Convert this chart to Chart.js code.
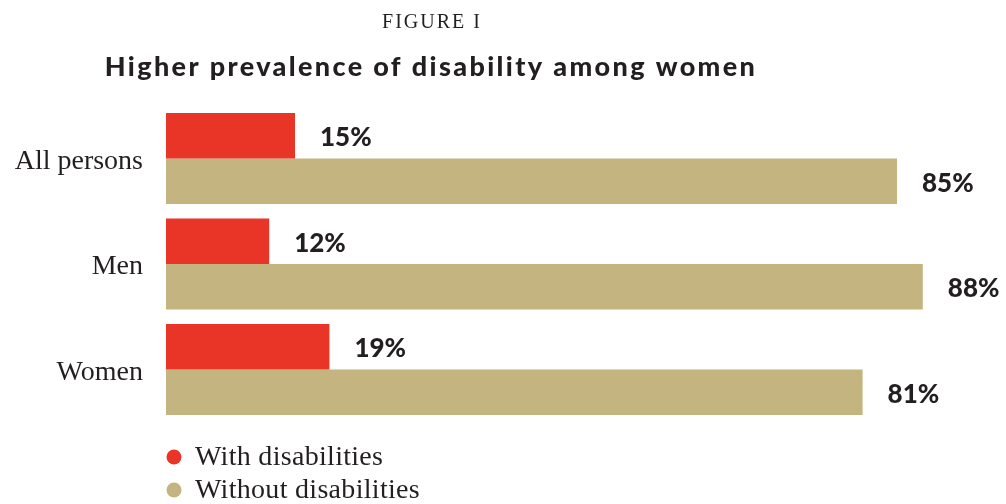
<!DOCTYPE html>
<html>
<head>
<meta charset="utf-8">
<script src="https://cdn.jsdelivr.net/npm/chart.js@4"></script>
<style>
  html, body { margin: 0; padding: 0; background: #ffffff; }
  #wrap { width: 1006px; height: 504px; position: relative; }
</style>
</head>
<body>
<div id="wrap"><canvas id="disabilityChart"></canvas></div>
<script>
(function () {
  "use strict";

  // Data
  const categories = ['All persons', 'Men', 'Women'];
  const withDisabilities = [15, 12, 19];
  const withoutDisabilities = [85, 88, 81];
  const seriesNames = ['With disabilities', 'Without disabilities'];

  // Colors
  const red_500   = '#e83528';
  const tan_500   = '#c4b47f';
  const text_dark = '#231f20';

  const serif = '"Liberation Serif", "DejaVu Serif", serif';
  const sans  = 'Lato, "Open Sans", sans-serif';

  // titles, value labels and legend drawn on the canvas
  const decorations = {
    id: 'decorations',
    afterDatasetsDraw(chart) {
      const ctx = chart.ctx;
      const canSpace = 'letterSpacing' in ctx;
      ctx.save();
      ctx.fillStyle = text_dark;

      // small caps heading
      ctx.font = '20px ' + serif;
      ctx.textAlign = 'center';
      ctx.textBaseline = 'alphabetic';
      if (canSpace) ctx.letterSpacing = '2px';
      ctx.fillText('FIGURE I', 432, 28);
      if (canSpace) ctx.letterSpacing = '0px';

      // title, spaced out to the reference width
      const title = 'Higher prevalence of disability among women';
      ctx.font = '900 27px ' + sans;
      const w = ctx.measureText(title).width;
      if (canSpace) {
        const ls = Math.max(0, (650 - w) / (title.length - 1));
        ctx.letterSpacing = ls.toFixed(2) + 'px';
      }
      ctx.fillText(title, 431, 76);
      if (canSpace) ctx.letterSpacing = '0px';

      // value labels
      ctx.font = '900 26px ' + sans;
      ctx.textAlign = 'left';
      ctx.textBaseline = 'middle';
      chart.data.datasets.forEach(function (ds, di) {
        const meta = chart.getDatasetMeta(di);
        meta.data.forEach(function (bar, i) {
          ctx.fillText(ds.data[i] + '%', bar.x + 25, bar.y + 2);
        });
      });

      // legend
      ctx.font = '28px ' + serif;
      if (canSpace) ctx.letterSpacing = '0.3px';
      chart.data.datasets.forEach(function (ds, di) {
        const y = 457 + di * 33;
        ctx.beginPath();
        ctx.fillStyle = ds.backgroundColor;
        ctx.arc(174, y, 7.5, 0, Math.PI * 2);
        ctx.fill();
        ctx.fillStyle = text_dark;
        ctx.fillText(ds.label, 195, y + 1);
      });
      ctx.restore();
    }
  };

  const ctx = document.getElementById('disabilityChart').getContext('2d');
  new Chart(ctx, {
    type: 'bar',
    data: {
      labels: categories,
      datasets: [{
        label: seriesNames[0],
        data: withDisabilities,
        backgroundColor: red_500,
        borderWidth: 0,
        barPercentage: 1,
        categoryPercentage: 0.8626
      }, {
        label: seriesNames[1],
        data: withoutDisabilities,
        backgroundColor: tan_500,
        borderWidth: 0,
        barPercentage: 1,
        categoryPercentage: 0.8626
      }]
    },
    options: {
      indexAxis: 'y',
      responsive: true,
      maintainAspectRatio: false,
      animation: false,
      layout: {
        padding: { top: 105.75, bottom: 81.75, left: 0, right: 0 }
      },
      scales: {
        x: {
          display: false,
          min: 0,
          max: 840 / 8.6
        },
        y: {
          grid: { display: false, drawTicks: false },
          border: { display: false },
          ticks: {
            color: text_dark,
            padding: 23,
            labelOffset: 3,
            font: { family: serif, size: 28 }
          },
          afterFit(scale) { scale.width = 166; }
        }
      },
      plugins: {
        legend: { display: false },
        tooltip: { enabled: false },
        title: { display: false }
      }
    },
    plugins: [decorations]
  });
})();
</script>
</body>
</html>
